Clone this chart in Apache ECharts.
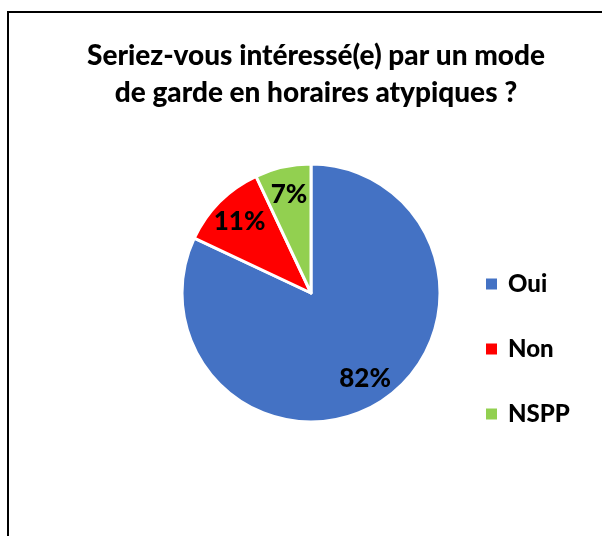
<!DOCTYPE html>
<html>
<head>
<meta charset="utf-8">
<script src="https://cdn.jsdelivr.net/npm/echarts@6/dist/echarts.min.js"></script>
<style>
  html, body { margin: 0; padding: 0; background: #fff; }
  #main { width: 602px; height: 536px; }
</style>
</head>
<body>
<div id="main"></div>
<script>
const categories = ["Oui", "Non", "NSPP"];
const values = [82, 11, 7];
const colors = ["#4472C4", "#FF0000", "#92D050"];

const pieData = categories.map(function (name, i) {
  return { name: name, value: values[i], itemStyle: { color: colors[i] } };
});

let chartDom = document.getElementById("main");
let myChart = echarts.init(chartDom);

let option = {
  backgroundColor: "#fff",
  animation: false,
  title: {
    text: "Seriez-vous intéressé(e) par un mode\nde garde en horaires atypiques ?",
    left: 311,
    textAlign: "center",
    top: 32,
    textStyle: {
      fontFamily: "Lato",
      fontWeight: 900,
      fontSize: 28,
      lineHeight: 37,
      color: "#000",
    },
  },
  legend: {
    orient: "vertical",
    left: 479,
    top: 267,
    itemWidth: 13,
    itemHeight: 13,
    itemGap: 41,
    icon: "rect",
    data: categories,
    textStyle: {
      fontFamily: "Lato",
      fontWeight: 900,
      fontSize: 24,
      lineHeight: 24,
      padding: [0, 0, 0, 5],
      color: "#000",
    },
  },
  graphic: [
    {
      type: "polyline",
      shape: { points: [[8, 536], [8, 12], [602, 12]] },
      style: { stroke: "#000", lineWidth: 2, fill: null },
      silent: true,
    },
  ],
  series: [
    {
      name: "garde",
      type: "pie",
      center: [311, 293],
      radius: [0, 129],
      startAngle: 90,
      clockwise: true,
      label: { show: false },
      labelLine: { show: false },
      itemStyle: { borderColor: "#fff", borderWidth: 3 },
      emphasis: { disabled: true },
      data: pieData,
    },
    {
      // invisible overlay, only used to place the percentage labels further out
      name: "labels",
      type: "pie",
      center: [311, 293],
      radius: [0, 196],
      startAngle: 90,
      clockwise: true,
      silent: true,
      itemStyle: { color: "rgba(0,0,0,0)", borderWidth: 0 },
      label: {
        show: true,
        position: "inside",
        formatter: "{d}%",
        fontFamily: "Lato",
        fontWeight: 900,
        fontSize: 26,
        color: "#000",
      },
      labelLine: { show: false },
      emphasis: { disabled: true },
      data: categories.map(function (name, i) {
        return { name: name, value: values[i] };
      }),
    },
  ],
};

option && myChart.setOption(option);
</script>
</body>
</html>
